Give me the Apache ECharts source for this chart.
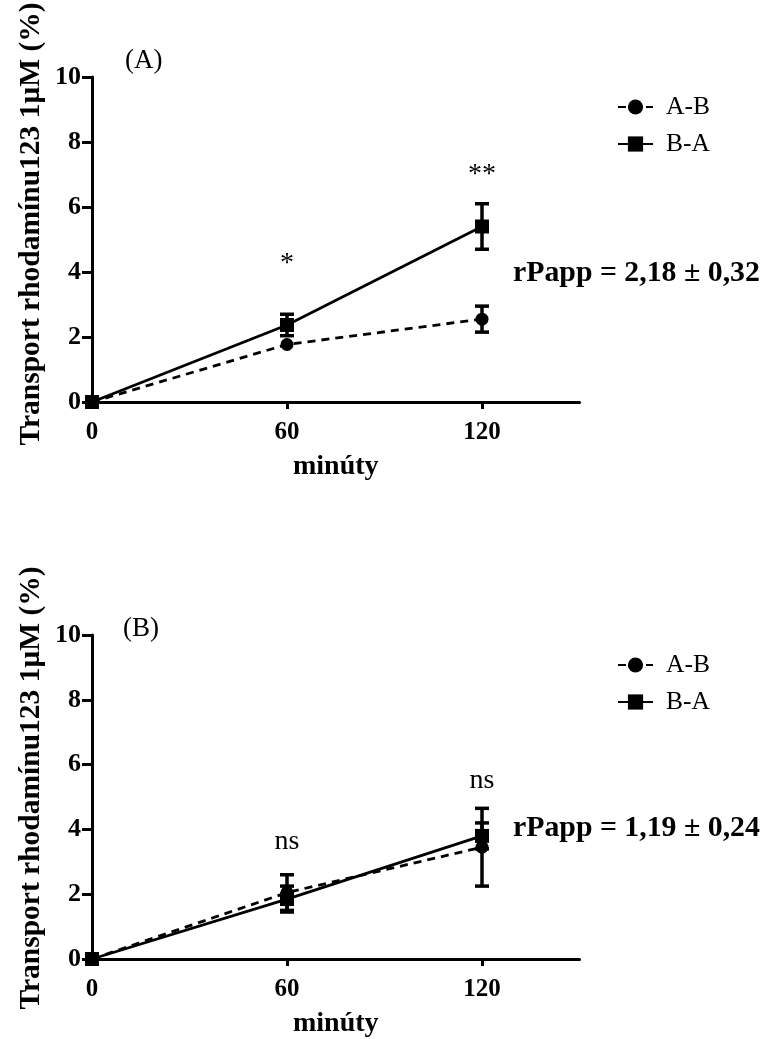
<!DOCTYPE html>
<html>
<head>
<meta charset="utf-8">
<script src="https://cdn.jsdelivr.net/npm/echarts@6/dist/echarts.min.js"></script>
<style>
html,body{margin:0;padding:0;background:#fff;}
#chart{width:763px;height:1039px;}
</style>
</head>
<body>
<div id="chart"></div>
<script>
// ---- data ----
const times = [0, 60, 120];
const xTicks = [0, 60, 120];
const yTicks = [0, 2, 4, 6, 8, 10];
const seriesNames = ['A-B', 'B-A'];

// Panel A
const panelA_AB_mean = [0, 1.77, 2.55];
const panelA_AB_err  = [0, 0.05, 0.40];
const panelA_BA_mean = [0, 2.37, 5.40];
const panelA_BA_err  = [0, 0.33, 0.70];
const panelA_marks   = [[60, 4.26, '*'], [120, 7.0, '**']];
const panelA_label   = '(A)';
const panelA_rpapp   = 'rPapp = 2,18 ± 0,32';

// Panel B
const panelB_AB_mean = [0, 2.05, 3.45];
const panelB_AB_err  = [0, 0.55, 1.20];
const panelB_BA_mean = [0, 1.85, 3.80];
const panelB_BA_err  = [0, 0.40, 0.40];
const panelB_marks   = [[60, 3.62, 'ns'], [120, 5.50, 'ns']];
const panelB_label   = '(B)';
const panelB_rpapp   = 'rPapp = 1,19 ± 0,24';

const yAxisTitle = 'Transport rhodamínu123 1μM (%)';
const xAxisTitle = 'minúty';

// ---- styling ----
const FONT = "'Liberation Serif', 'Times New Roman', serif";
const chart = echarts.init(document.getElementById('chart'), null, {renderer: 'canvas'});

const grids = [
  {left: 92, top: 77, width: 487.5, height: 325},
  {left: 92, top: 635, width: 487.5, height: 324}
];

function xAxisDef(i) {
  return {
    type: 'value', gridIndex: i, min: 0, max: 150, interval: 60,
    name: xAxisTitle, nameLocation: 'middle', nameGap: 51,
    nameTextStyle: {fontFamily: FONT, fontWeight: 'bold', fontSize: 28, color: '#000'},
    axisLine: {show: true, onZero: false, lineStyle: {color: '#000', width: 3}},
    axisTick: {show: true, inside: false, length: 7, customValues: xTicks, lineStyle: {color: '#000', width: 3}},
    axisLabel: {show: true, margin: 18, customValues: xTicks, fontFamily: FONT, fontWeight: 'bold', fontSize: 25, color: '#000'},
    splitLine: {show: false}
  };
}
function yAxisDef(i) {
  return {
    type: 'value', gridIndex: i, min: 0, max: 10, interval: 2,
    axisLine: {show: true, onZero: false, lineStyle: {color: '#000', width: 3}},
    axisTick: {show: true, inside: false, length: 10, lineStyle: {color: '#000', width: 3}},
    axisLabel: {show: true, margin: 11, fontFamily: FONT, fontWeight: 'bold', fontSize: 26, color: '#000',
      customValues: yTicks},
    splitLine: {show: false}
  };
}

function errData(mean, err) {
  return times.map((t, k) => [t, mean[k] - err[k], mean[k] + err[k], err[k]]);
}

function errRender(params, api) {
  const e = api.value(3);
  if (!e || e < 0.06) return null;
  const x = api.value(0);
  const pHi = api.coord([x, api.value(2)]);
  const pLo = api.coord([x, api.value(1)]);
  const w = 7;
  const st = {stroke: '#000', lineWidth: 3.5};
  return {
    type: 'group',
    children: [
      {type: 'line', shape: {x1: pHi[0], y1: pHi[1], x2: pLo[0], y2: pLo[1]}, style: st},
      {type: 'line', shape: {x1: pHi[0] - w, y1: pHi[1], x2: pHi[0] + w, y2: pHi[1]}, style: st},
      {type: 'line', shape: {x1: pLo[0] - w, y1: pLo[1], x2: pLo[0] + w, y2: pLo[1]}, style: st}
    ]
  };
}

function markRender(params, api) {
  const p = api.coord([api.value(0), api.value(1)]);
  const txt = (params.dataIndex < 0) ? '' : api.value(2);
  return {
    type: 'text', x: p[0], y: p[1],
    style: {text: txt, fill: '#000', font: '28px ' + FONT, textAlign: 'center', textVerticalAlign: 'middle'}
  };
}

function panelSeries(i, abMean, abErr, baMean, baErr, marks) {
  return [
    {
      type: 'custom', name: 'errAB' + i, xAxisIndex: i, yAxisIndex: i,
      renderItem: errRender, data: errData(abMean, abErr), z: 2, silent: true,
      encode: {x: 0, y: [1, 2]}
    },
    {
      type: 'custom', name: 'errBA' + i, xAxisIndex: i, yAxisIndex: i,
      renderItem: errRender, data: errData(baMean, baErr), z: 2, silent: true,
      encode: {x: 0, y: [1, 2]}
    },
    {
      type: 'line', name: seriesNames[0], xAxisIndex: i, yAxisIndex: i,
      data: times.map((t, k) => [t, abMean[k]]),
      symbol: 'circle', symbolSize: 13, showSymbol: true,
      lineStyle: {color: '#000', width: 2.8, type: [8, 6]},
      itemStyle: {color: '#000'}, z: 3, silent: true, animation: false
    },
    {
      type: 'line', name: seriesNames[1], xAxisIndex: i, yAxisIndex: i,
      data: times.map((t, k) => [t, baMean[k]]),
      symbol: 'rect', symbolSize: 14, showSymbol: true,
      lineStyle: {color: '#000', width: 2.8, type: 'solid'},
      itemStyle: {color: '#000'}, z: 4, silent: true, animation: false
    },
    {
      type: 'custom', name: 'marks' + i, xAxisIndex: i, yAxisIndex: i,
      renderItem: markRender, silent: true, z: 5,
      dimensions: ['x', 'y', {name: 't', type: 'ordinal'}],
      encode: {x: 0, y: 1},
      data: marks
    }
  ];
}

function legendDef(top) {
  return {
    data: seriesNames, orient: 'vertical', left: 612, top: top,
    itemWidth: 35, itemHeight: 19, itemGap: 11, selectedMode: false,
    textStyle: {fontFamily: FONT, fontSize: 25.5, color: '#000', padding: [0, 0, 0, 8]}
  };
}

const option = {
  backgroundColor: '#fff',
  animation: false,
  grid: grids,
  xAxis: [xAxisDef(0), xAxisDef(1)],
  yAxis: [yAxisDef(0), yAxisDef(1)],
  legend: [legendDef(89), legendDef(647)],
  series: [].concat(
    panelSeries(0, panelA_AB_mean, panelA_AB_err, panelA_BA_mean, panelA_BA_err, panelA_marks),
    panelSeries(1, panelB_AB_mean, panelB_AB_err, panelB_BA_mean, panelB_BA_err, panelB_marks)
  ),
  graphic: [
    {type: 'text', x: 31, y: 224, rotation: Math.PI / 2,
      style: {text: yAxisTitle, fill: '#000', font: 'bold 29.5px ' + FONT, textAlign: 'center', textVerticalAlign: 'middle'}},
    {type: 'text', x: 31, y: 788, rotation: Math.PI / 2,
      style: {text: yAxisTitle, fill: '#000', font: 'bold 29.5px ' + FONT, textAlign: 'center', textVerticalAlign: 'middle'}},
    {type: 'text', x: 125, y: 61,
      style: {text: panelA_label, fill: '#000', font: '27px ' + FONT, textAlign: 'left', textVerticalAlign: 'middle'}},
    {type: 'text', x: 123, y: 629,
      style: {text: panelB_label, fill: '#000', font: '27px ' + FONT, textAlign: 'left', textVerticalAlign: 'middle'}},
    {type: 'text', x: 513, y: 273,
      style: {text: panelA_rpapp, fill: '#000', font: 'bold 29.8px ' + FONT, textAlign: 'left', textVerticalAlign: 'middle'}},
    {type: 'text', x: 513, y: 828,
      style: {text: panelB_rpapp, fill: '#000', font: 'bold 29.8px ' + FONT, textAlign: 'left', textVerticalAlign: 'middle'}}
  ]
};
chart.setOption(option);
</script>
</body>
</html>
